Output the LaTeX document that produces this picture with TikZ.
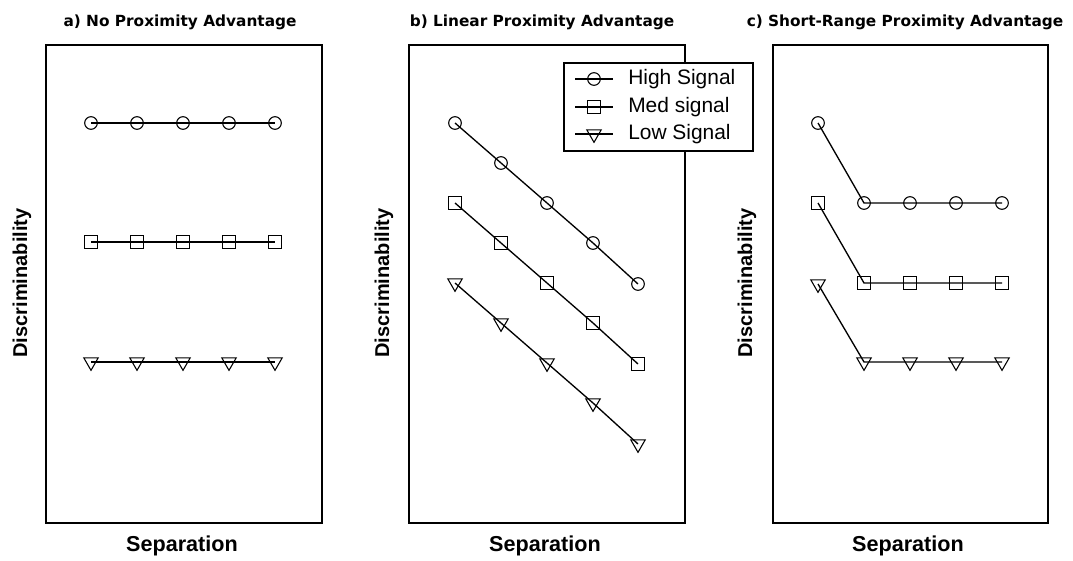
\documentclass[tikz,border=0pt]{standalone}
\usepackage{fontspec}
\usepackage{graphicx}
\setmainfont{Liberation Sans}
\newfontfamily\dvs{DejaVu Sans}
\usetikzlibrary{shapes.geometric}
\tikzset{
  frame/.style={draw, line width=1.5pt},
  title/.style={font=\dvs\bfseries\fontsize{11.5pt}{13pt}\selectfont, inner sep=0pt},
  axlab/.style={font=\bfseries\fontsize{15pt}{17pt}\selectfont, inner sep=0pt},
  seplab/.style={font=\bfseries\fontsize{16.2pt}{18pt}\selectfont, inner sep=0pt},
  legtext/.style={font=\fontsize{15.7pt}{18pt}\selectfont, inner sep=0pt, anchor=west},
  mk/.style={draw, line width=0.8pt, inner sep=0pt},
  hi/.style={mk, circle, minimum size=9.5pt},
  me/.style={mk, rectangle, minimum size=9.75pt},
  lo/.style={mk, regular polygon, regular polygon sides=3, shape border rotate=180, minimum size=12.5pt},
  dl/.style={line width=1pt},
}
\begin{document}
\begin{tikzpicture}[x=0.75pt,y=-0.75pt]
\useasboundingbox (0,0) rectangle (1073,560);
% frames
\draw[frame] (46,45) rectangle (322,523);
\draw[frame] (409,45) rectangle (685,523);
\draw[frame] (773,45) rectangle (1048,523);
% titles
\node[title] (ta) at (180,22) {a) No Proximity Advantage};
\node[title] (tb) at (542,22) {b) Linear Proximity Advantage};
\node[title] (tc) at (905,22) {c) Short-Range Proximity Advantage};
% axis labels
\node[seplab] (sa) at (182,546) {Separation};
\node[seplab] (sb) at (545,546) {Separation};
\node[seplab] (sc) at (908,546) {Separation};
\node[axlab, rotate=90] (da) at (22,283) {Discriminability};
\node[axlab, rotate=90] (db) at (384,283) {Discriminability};
\node[axlab, rotate=90] (dc) at (747,283) {Discriminability};
% panel a
\foreach \i/\x in {1/91,2/137,3/183,4/229,5/275}{
  \node[hi] (ah\i) at (\x,123) {};
  \node[me] (am\i) at (\x,242) {};
  \node[lo] (al\i) at (\x,362) {};
}
\draw[dl] (ah1.center) -- (ah2.center) -- (ah3.center) -- (ah4.center) -- (ah5.center);
\draw[dl] (am1.center) -- (am2.center) -- (am3.center) -- (am4.center) -- (am5.center);
\draw[dl] (al1.center) -- (al2.center) -- (al3.center) -- (al4.center) -- (al5.center);
% panel b
\foreach \i/\x/\y in {1/455/123,2/501/163,3/547/203,4/593/243,5/638/284}{
  \node[hi] (bh\i) at (\x,\y) {};
  \node[me] (bm\i) at (\x,\y+80) {};
  \node[lo] (bl\i) at (\x,\y+160) {};
}
\draw[dl] (bh1.center) -- (bh2.center) -- (bh3.center) -- (bh4.center) -- (bh5.center);
\draw[dl] (bm1.center) -- (bm2.center) -- (bm3.center) -- (bm4.center) -- (bm5.center);
\draw[dl] (bl1.center) -- (bl2.center) -- (bl3.center) -- (bl4.center) -- (bl5.center);
% panel c
\node[hi] (ch1) at (818,123) {};
\node[me] (cm1) at (818,203) {};
\node[lo] (cl1) at (818,284) {};
\foreach \i/\x in {2/864,3/910,4/956,5/1002}{
  \node[hi] (ch\i) at (\x,203) {};
  \node[me] (cm\i) at (\x,283) {};
  \node[lo] (cl\i) at (\x,362) {};
}
\draw[dl] (ch1.center) -- (ch2.center) -- (ch3.center) -- (ch4.center) -- (ch5.center);
\draw[dl] (cm1.center) -- (cm2.center) -- (cm3.center) -- (cm4.center) -- (cm5.center);
\draw[dl] (cl1.center) -- (cl2.center) -- (cl3.center) -- (cl4.center) -- (cl5.center);
% legend
\draw[frame, fill=white] (564,63) rectangle (753,151);
\coordinate (lh0) at (575,79); \coordinate (lh2) at (613,79);
\coordinate (lm0) at (575,107); \coordinate (lm2) at (613,107);
\coordinate (ll0) at (575,134); \coordinate (ll2) at (613,134);
\node[hi] (lh1) at (594,79) {};
\node[me] (lm1) at (594,107) {};
\node[lo] (ll1) at (594,134) {};
\draw[dl] (lh0) -- (lh1.center) -- (lh2);
\draw[dl] (lm0) -- (lm1.center) -- (lm2);
\draw[dl] (ll0) -- (ll1.center) -- (ll2);
\node[legtext] (lth) at (628,79) {High Signal};
\node[legtext] (ltm) at (628,107) {Med signal};
\node[legtext] (ltl) at (628,134) {Low Signal};
\end{tikzpicture}
\end{document}
